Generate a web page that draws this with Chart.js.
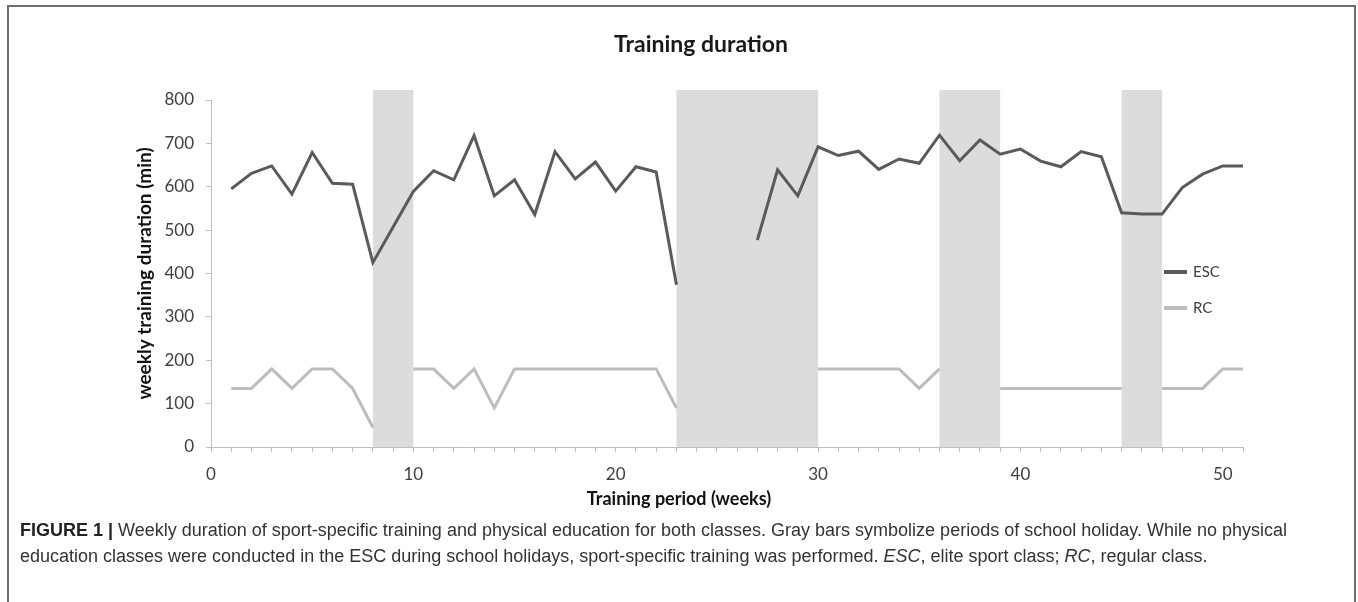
<!DOCTYPE html>
<html lang="en">
<head>
    <meta charset="UTF-8">
    <title>Training duration</title>
    <script src="https://cdn.jsdelivr.net/npm/chart.js"></script>
    <style>
        html, body { margin: 0; padding: 0; background: #fff; overflow: hidden; }
        body { width: 1358px; height: 602px; position: relative; }
        .frame {
            position: absolute; left: 7px; top: 5px; width: 1345px; height: 640px;
            border: 2px solid #6e6e6e; border-bottom: none;
        }
        #chartBox { position: absolute; left: 0; top: 0; width: 1358px; height: 520px; }
        .caption {
            position: absolute; left: 20px; top: 517px; width: 1320px;
            font-family: "Liberation Sans", Arial, sans-serif; font-size: 18px;
            line-height: 26px; color: #333; white-space: nowrap;
        }
        .caption b { color: #222; }
    </style>
</head>
<body>
    <div class="frame"></div>
    <div id="chartBox"><canvas id="chart"></canvas></div>
    <div class="caption">
        <b>FIGURE 1 |</b> Weekly duration of sport-specific training and physical education for both classes. Gray bars symbolize periods of school holiday. While no physical<br>
        education classes were conducted in the ESC during school holidays, sport-specific training was performed. <i>ESC</i>, elite sport class; <i>RC</i>, regular class.
    </div>

    <script>
        const weeks = [1, 2, 3, 4, 5, 6, 7, 8, 9, 10, 11, 12, 13, 14, 15, 16, 17, 18, 19, 20, 21, 22, 23, 24, 25,
                       26, 27, 28, 29, 30, 31, 32, 33, 34, 35, 36, 37, 38, 39, 40, 41, 42, 43, 44, 45, 46, 47, 48, 49, 50, 51];
        const escMinutes = [595, 631, 648, 583, 679, 608, 606, 425, 507, 589, 637, 616, 718, 579, 616, 536, 681, 618, 657, 590, 646, 634, 374, null, null,
                            null, 477, 639, 579, 692, 672, 682, 640, 664, 654, 719, 660, 708, 675, 687, 659, 646, 681, 669, 540, 537, 537, 598, 629, 648, 648];
        const rcMinutes = [135, 135, 180, 135, 180, 180, 135, 45, null, 180, 180, 135, 180, 90, 180, 180, 180, 180, 180, 180, 180, 180, 90, null, null,
                           null, null, null, null, 180, 180, 180, 180, 180, 135, 180, null, null, 135, 135, 135, 135, 135, 135, 135, null, 135, 135, 135, 180, 180];
        // school holidays (start week, end week)
        const holidayStart = [8, 23, 36, 45];
        const holidayEnd = [10, 30, 39, 47];
        const holidayTop = 823;
        const xTitle = 'Training period (weeks)';

        const chartFont = 'Lato, "Open Sans", sans-serif';

        function toPoints(values) {
            return weeks.map((w, i) => ({ x: w, y: values[i] }));
        }

        const holidayBands = {
            id: 'holidayBands',
            beforeDatasetsDraw(chart) {
                const { ctx, scales: { x, y } } = chart;
                ctx.save();
                ctx.fillStyle = '#dcdcdc';
                holidayStart.forEach((s, i) => {
                    const x0 = x.getPixelForValue(s);
                    const x1 = x.getPixelForValue(holidayEnd[i]);
                    const y0 = y.getPixelForValue(holidayTop);
                    const y1 = y.getPixelForValue(0);
                    ctx.fillRect(x0, y0, x1 - x0, y1 - y0);
                });
                ctx.restore();
            }
        };

        // legend sits inside the plot area, right side
        const innerLegend = {
            id: 'innerLegend',
            afterDatasetsDraw(chart) {
                const { ctx, chartArea } = chart;
                ctx.save();
                ctx.font = '15px ' + chartFont;
                ctx.textBaseline = 'middle';
                chart.data.datasets.forEach((ds, i) => {
                    const yy = chartArea.top + 172 + i * 36;
                    const xx = chartArea.right - 79;
                    ctx.strokeStyle = ds.borderColor;
                    ctx.lineWidth = 4;
                    ctx.beginPath();
                    ctx.moveTo(xx, yy);
                    ctx.lineTo(xx + 23, yy);
                    ctx.stroke();
                    ctx.fillStyle = '#404040';
                    ctx.fillText(ds.label, xx + 29, yy);
                });
                ctx.restore();
            }
        };

        // x axis title is centred on the whole figure, not on the plot area
        const bottomTitle = {
            id: 'bottomTitle',
            afterDraw(chart) {
                const { ctx, chartArea } = chart;
                ctx.save();
                ctx.font = 'bold 18px ' + chartFont;
                ctx.fillStyle = '#111';
                ctx.textAlign = 'center';
                ctx.textBaseline = 'middle';
                ctx.fillText(xTitle, chart.width / 2, chartArea.bottom + 52);
                ctx.restore();
            }
        };

        const ctx = document.getElementById('chart').getContext('2d');
        new Chart(ctx, {
            type: 'line',
            data: {
                datasets: [
                    {
                        label: 'ESC',
                        data: toPoints(escMinutes),
                        borderColor: '#5a5a5a',
                        borderWidth: 3,
                        pointRadius: 0,
                        tension: 0,
                        spanGaps: false
                    },
                    {
                        label: 'RC',
                        data: toPoints(rcMinutes),
                        borderColor: '#bdbdbd',
                        borderWidth: 3,
                        pointRadius: 0,
                        tension: 0,
                        spanGaps: false
                    }
                ]
            },
            options: {
                responsive: true,
                maintainAspectRatio: false,
                animation: false,
                layout: { padding: { left: 159, right: 115, top: 0, bottom: 0 } },
                plugins: {
                    legend: { display: false },
                    tooltip: { enabled: false },
                    title: {
                        display: true,
                        text: 'Training duration',
                        color: '#1a1a1a',
                        font: { family: chartFont, size: 23, weight: 'bold' },
                        padding: { top: 31, bottom: 41.4 }
                    }
                },
                scales: {
                    x: {
                        type: 'linear',
                        min: 0,
                        max: 51,
                        afterFit: (scale) => { scale.height = 73; },
                        ticks: {
                            stepSize: 1,
                            autoSkip: false,
                            maxRotation: 0,
                            padding: 12,
                            color: '#404040',
                            font: { family: chartFont, size: 17 },
                            callback: (v) => (v % 10 === 0 ? v : '')
                        },
                        grid: { drawOnChartArea: false, tickLength: 5, color: '#bfbfbf' },
                        border: { color: '#bfbfbf' },
                        title: { display: false }
                    },
                    y: {
                        min: 0,
                        max: 800,
                        afterFit: (scale) => { scale.width = 52; },
                        ticks: {
                            stepSize: 100,
                            padding: 12,
                            color: '#404040',
                            font: { family: chartFont, size: 17 }
                        },
                        grid: { drawOnChartArea: false, tickLength: 5, color: '#bfbfbf' },
                        border: { color: '#bfbfbf' },
                        title: {
                            display: true,
                            text: 'weekly training duration (min)',
                            color: '#111',
                            font: { family: chartFont, size: 19, weight: 'bold' },
                            padding: { top: -25.4, bottom: 0 }
                        }
                    }
                }
            },
            plugins: [holidayBands, innerLegend, bottomTitle]
        });
    </script>
</body>
</html>
